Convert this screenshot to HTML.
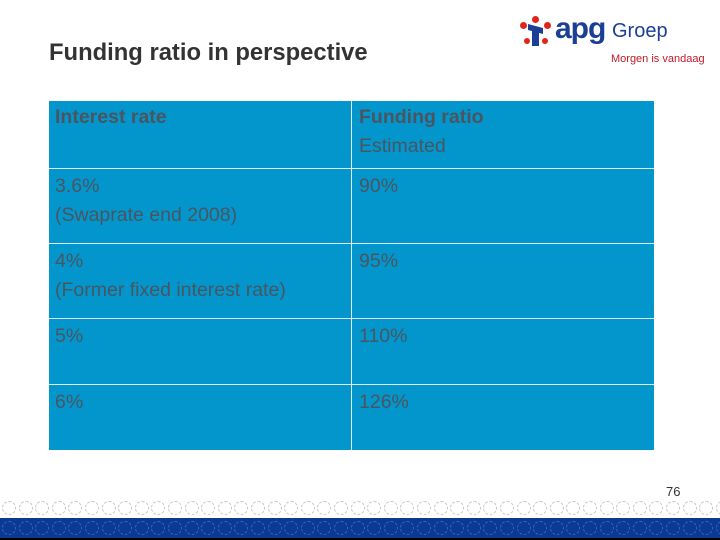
<!DOCTYPE html>
<html><head><meta charset="utf-8"><style>
body{margin:0;width:720px;height:540px;background:#fff;position:relative;overflow:hidden;font-family:"Liberation Sans",sans-serif}
.title{position:absolute;left:49px;top:39px;font-size:23.8px;font-weight:bold;color:#333;white-space:nowrap}
.tbl{position:absolute;left:49px;top:101px;width:605px;height:349px;background:#0396cc}
.cell{position:absolute;color:#4a5560;font-size:19.5px;line-height:29px;box-sizing:border-box;padding:2px 6px;white-space:nowrap}
.hl{position:absolute;height:1px;background:#dfeef6;left:0;width:605px}
.vl{position:absolute;width:1px;background:#dfeef6;left:302px;top:0;height:349px}
.dots{position:absolute;left:0;width:720px;height:16px;top:500px;overflow:hidden}
.band{position:absolute;left:0;top:518px;width:720px;height:20px;background:#0a3a92;overflow:hidden}
.black{position:absolute;left:0;top:538px;width:720px;height:2px;background:#000}
</style></head><body>
<div class="title">Funding ratio in perspective</div>
<div style="position:absolute;left:516px;top:16px;width:195px;height:50px;white-space:nowrap">
  <div style="position:absolute;left:4px;top:6px;width:7px;height:7px;border-radius:50%;background:#e2231a"></div>
  <div style="position:absolute;left:28px;top:6px;width:7px;height:7px;border-radius:50%;background:#e2231a"></div>
  <div style="position:absolute;left:16px;top:0;width:7px;height:7px;border-radius:50%;background:#e2231a"></div>
  <div style="position:absolute;left:8px;top:22px;width:6px;height:6px;border-radius:50%;background:#e2231a"></div>
  <div style="position:absolute;left:26px;top:22px;width:6px;height:6px;border-radius:50%;background:#e2231a"></div>
  <div style="position:absolute;left:12px;top:10px;width:15px;height:6px;background:#1a3f95;transform:skewY(15deg)"></div>
  <div style="position:absolute;left:16px;top:14px;width:7px;height:16px;background:#1a3f95"></div>
  <div style="position:absolute;left:39px;top:-4px;font-size:30px;font-weight:bold;color:#1a3f95;letter-spacing:-1px">apg</div>
  <div style="position:absolute;left:96px;top:4px;font-size:20px;color:#1a3f95">Groep</div>
  <div style="position:absolute;left:95px;top:37px;font-size:11px;color:#c0182a">Morgen is vandaag</div>
</div>
<div class="tbl">
  <div class="vl"></div>
  <div class="hl" style="top:67px"></div>
  <div class="hl" style="top:142px"></div>
  <div class="hl" style="top:217px"></div>
  <div class="hl" style="top:283px"></div>
  <div class="cell" style="left:0;top:0;font-weight:bold">Interest rate</div>
  <div class="cell" style="left:304px;top:0"><b>Funding ratio</b><br>Estimated</div>
  <div class="cell" style="left:0;top:69px">3.6%<br>(Swaprate end 2008)</div>
  <div class="cell" style="left:304px;top:69px">90%</div>
  <div class="cell" style="left:0;top:144px">4%<br>(Former fixed interest rate)</div>
  <div class="cell" style="left:304px;top:144px">95%</div>
  <div class="cell" style="left:0;top:219px">5%</div>
  <div class="cell" style="left:304px;top:219px">110%</div>
  <div class="cell" style="left:0;top:285px">6%</div>
  <div class="cell" style="left:304px;top:285px">126%</div>
</div>
<div style="position:absolute;left:666px;top:484px;font-size:13px;color:#333">76</div>
<div class="dots" id="dots"></div>
<div class="band" id="band"></div>
<div class="black"></div>
<script>
var d=document.getElementById('dots'),b=document.getElementById('band'),h='',h2='';
for(var i=0;i<45;i++){
h+='<div style="position:absolute;left:'+(2+i*16.6)+'px;top:1px;width:12px;height:12px;border-radius:50%;border:1px dashed #c8c8c8"></div>';
h2+='<div style="position:absolute;left:'+(2+i*16.6)+'px;top:3px;width:12px;height:12px;border-radius:50%;border:1px dashed #3c64b0"></div>';
}
d.innerHTML=h;b.innerHTML=h2;
</script>
</body></html>
